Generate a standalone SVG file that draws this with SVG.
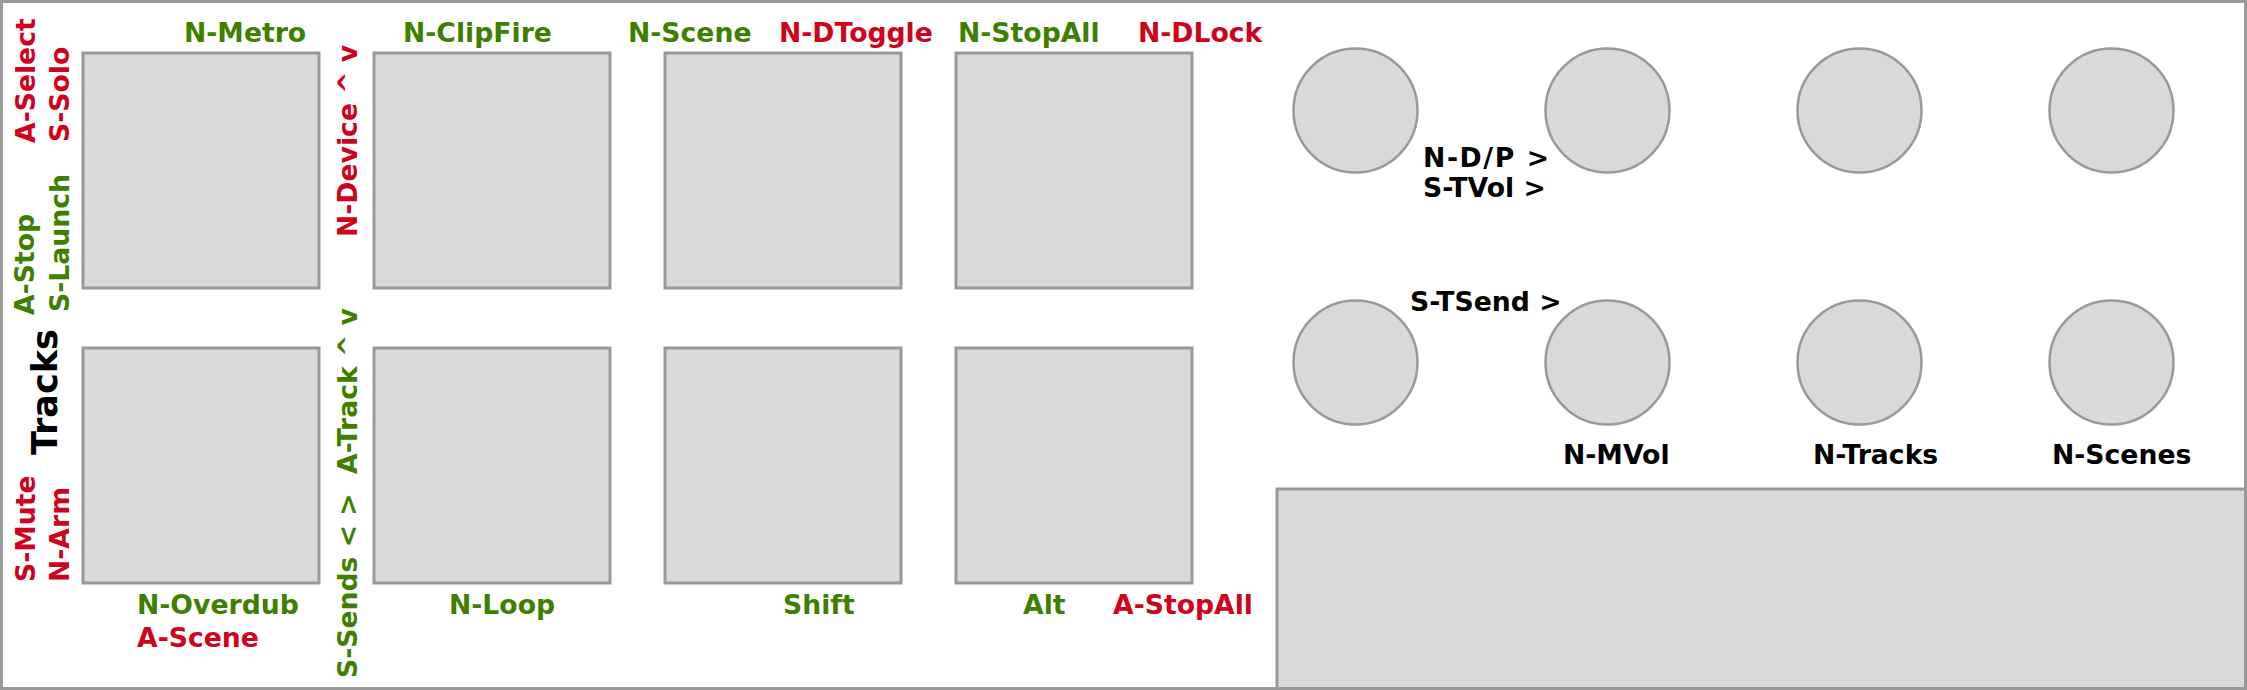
<svg xmlns="http://www.w3.org/2000/svg" width="2247" height="690" viewBox="0 0 2247 690">
<style>
.pad{fill:#d9d9d9;stroke:#999999;stroke-width:3}
.knob{fill:#d9d9d9;stroke:#999999;stroke-width:2.5}
text{font-family:"DejaVu Sans","Verdana",sans-serif;font-weight:bold;font-size:26.67px}
.g{fill:#3f7f00}
.r{fill:#d0021b}
.k{fill:#000000}
.big{font-size:35px}
</style>
<rect x="0" y="0" width="2247" height="690" fill="#ffffff"/>
<g id="pads">
<rect id="pad1" class="pad" x="83" y="53" width="236" height="235"/>
<rect id="pad2" class="pad" x="374" y="53" width="236" height="235"/>
<rect id="pad3" class="pad" x="665" y="53" width="236" height="235"/>
<rect id="pad4" class="pad" x="956" y="53" width="236" height="235"/>
<rect id="pad5" class="pad" x="83" y="348" width="236" height="235"/>
<rect id="pad6" class="pad" x="374" y="348" width="236" height="235"/>
<rect id="pad7" class="pad" x="665" y="348" width="236" height="235"/>
<rect id="pad8" class="pad" x="956" y="348" width="236" height="235"/>
</g>
<g id="knobs">
<circle id="knob1" class="knob" cx="1355.5" cy="110.5" r="62"/>
<circle id="knob2" class="knob" cx="1607.5" cy="110.5" r="62"/>
<circle id="knob3" class="knob" cx="1859.5" cy="110.5" r="62"/>
<circle id="knob4" class="knob" cx="2111.5" cy="110.5" r="62"/>
<circle id="knob5" class="knob" cx="1355.5" cy="362.5" r="62"/>
<circle id="knob6" class="knob" cx="1607.5" cy="362.5" r="62"/>
<circle id="knob7" class="knob" cx="1859.5" cy="362.5" r="62"/>
<circle id="knob8" class="knob" cx="2111.5" cy="362.5" r="62"/>
</g>
<g id="display">
<rect class="pad" x="1277" y="489" width="972" height="204"/>
</g>
<g id="connectors"></g>
<g id="labels">
<text class="g" x="184" y="42">N-Metro</text>
<text class="g" x="403" y="42">N-ClipFire</text>
<text class="g" x="628" y="42">N-Scene</text>
<text class="r" x="779" y="42">N-DToggle</text>
<text class="g" x="958" y="42">N-StopAll</text>
<text class="r" x="1138" y="42">N-DLock</text>
<text class="g" x="137" y="614">N-Overdub</text>
<text class="r" x="137" y="647">A-Scene</text>
<text class="g" x="449" y="614">N-Loop</text>
<text class="g" x="783" y="614">Shift</text>
<text class="g" x="1023" y="614">Alt</text>
<text class="r" x="1113" y="614">A-StopAll</text>
<text class="k" x="1423" y="167" textLength="126" lengthAdjust="spacing">N-D/P &gt;</text>
<text class="k" x="1423" y="197">S-TVol &gt;</text>
<text class="k" x="1410" y="311">S-TSend &gt;</text>
<text class="k" x="1563" y="464">N-MVol</text>
<text class="k" x="1813" y="464">N-Tracks</text>
<text class="k" x="2052" y="464">N-Scenes</text>
<text class="r" x="34.5" y="143" transform="rotate(-90 34.5 143)">A-Select</text>
<text class="r" x="68.5" y="142" transform="rotate(-90 68.5 142)">S-Solo</text>
<text class="g" x="33.5" y="315" transform="rotate(-90 33.5 315)">A-Stop</text>
<text class="g" x="68.5" y="312" transform="rotate(-90 68.5 312)">S-Launch</text>
<text class="r" x="357" y="237" transform="rotate(-90 357 237)">N-Device ^ v</text>
<text class="k big" x="57" y="455" transform="rotate(-90 57 455)">Tracks</text>
<text class="r" x="35" y="582" transform="rotate(-90 35 582)">S-Mute</text>
<text class="r" x="68.5" y="582" transform="rotate(-90 68.5 582)">N-Arm</text>
<text class="g" x="357" y="678" transform="rotate(-90 357 678)">S-Sends &lt; &gt;</text>
<text class="g" x="357" y="474" transform="rotate(-90 357 474)">A-Track ^ v</text>
</g>
<rect x="1.5" y="1.5" width="2244" height="687" fill="none" stroke="#999999" stroke-width="3"/>
</svg>
